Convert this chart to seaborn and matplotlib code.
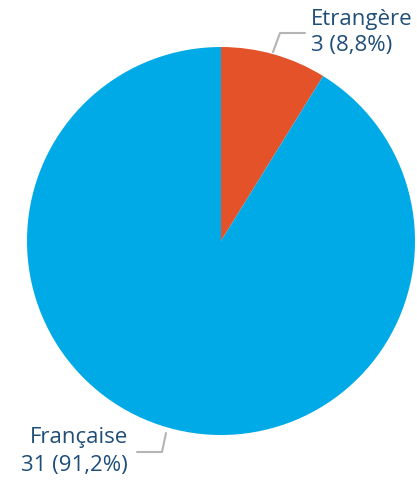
import matplotlib
matplotlib.use("Agg")
import matplotlib.pyplot as plt
import seaborn as sns

categories = ["Etrangère", "Française"]
values = [3, 31]
pct_labels = ["8,8%", "91,2%"]
colors = ["#E4522A", "#00AAE7"]

sns.set_theme(style="white")
plt.rcParams["font.family"] = ["Open Sans", "DejaVu Sans"]

W, H = 417, 482
fig = plt.figure(figsize=(W / 100, H / 100), dpi=100)
ax = fig.add_axes([0, 0, 1, 1])

# pie centre and radius in pixel coordinates (y measured from top)
cx, cy, r = 221, 241, 194
ax.pie(values, colors=colors, startangle=90, counterclock=False,
       center=(cx, H - cy), radius=r, frame=True,
       wedgeprops=dict(linewidth=0))
ax.set_xlim(0, W)
ax.set_ylim(0, H)
ax.set_aspect("equal")
ax.axis("off")

text_color = "#1F4E79"
line_color = "#B4B4B4"
fs = 16

# Etrangère label
ax.plot([273, 280, 305], [H - 52, H - 33, H - 33], color=line_color, lw=1.5)
ax.text(311, H - 20, categories[0], color=text_color, fontsize=fs,
        ha="left", va="center")
ax.text(311, H - 46, f"{values[0]} ({pct_labels[0]})", color=text_color,
        fontsize=fs, ha="left", va="center")

# Française label
ax.plot([137, 162, 166], [H - 452, H - 452, H - 433], color=line_color, lw=1.5)
ax.text(128, H - 438, categories[1], color=text_color, fontsize=fs,
        ha="right", va="center")
ax.text(128, H - 466, f"{values[1]} ({pct_labels[1]})", color=text_color,
        fontsize=fs, ha="right", va="center")

fig.savefig("out.png", dpi=100)
